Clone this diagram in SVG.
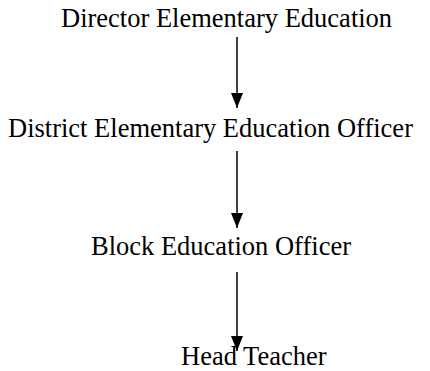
<svg xmlns="http://www.w3.org/2000/svg" width="430" height="371" viewBox="0 0 430 371">
<style>
text{font-family:"Liberation Serif","Times New Roman",serif;font-size:26.5px;fill:#000}
.c line{stroke:#000;stroke-width:1.5}
</style>
<defs>
<marker id="ah" viewBox="0 0 15 12" refX="15" refY="6" markerWidth="15" markerHeight="12" markerUnits="userSpaceOnUse" orient="auto">
<path d="M0,0 L15,6 L0,12 Z" fill="#000"/>
</marker>
</defs>
<rect width="430" height="371" fill="#fff"/>
<g id="n1"><text x="61" y="27">Director Elementary Education</text></g>
<g id="n2"><text x="8" y="137">District Elementary Education Officer</text></g>
<g id="n3"><text x="91" y="255">Block Education Officer</text></g>
<g id="n4"><text x="181" y="365">Head Teacher</text></g>
<g class="c" id="connectors">
<line x1="237" y1="37" x2="237" y2="108" marker-end="url(#ah)"/>
<line x1="237" y1="151" x2="237" y2="228" marker-end="url(#ah)"/>
<line x1="237" y1="272" x2="237" y2="351" marker-end="url(#ah)"/>
</g>
</svg>
